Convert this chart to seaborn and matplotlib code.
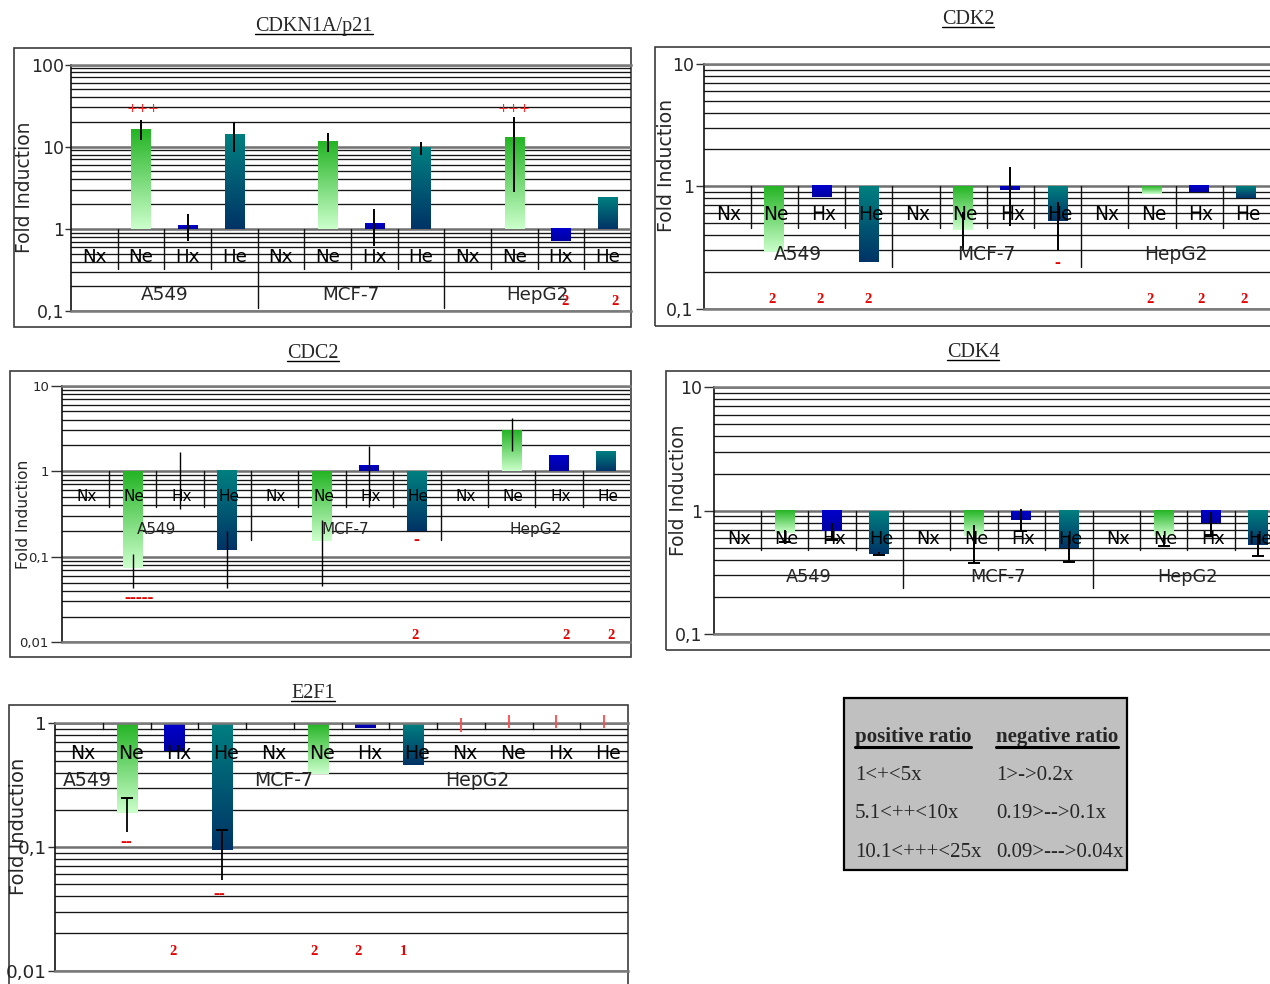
import numpy as np
import pandas as pd
import seaborn as sns
import matplotlib
matplotlib.use("Agg")
import matplotlib.pyplot as plt
from matplotlib.colors import LinearSegmentedColormap
from matplotlib.patches import Rectangle
from matplotlib.lines import Line2D
from matplotlib.ticker import FixedLocator, FixedFormatter, LogLocator, NullFormatter

nan = np.nan

# ---------------- data ----------------
cell_lines = ["A549", "MCF-7", "HepG2"]
conditions = ["Nx", "Ne", "Hx", "He"]

p21_title = "CDKN1A/p21"
p21_values = [1.0, 16.4, 1.11, 14.3, 1.0, 11.7, 1.17, 9.7, 1.0, 12.9, 0.71, 2.44]
p21_err_low = [nan, 11.9, 0.72, 8.5, nan, 8.5, 0.61, 7.9, nan, 2.77, nan, nan]
p21_err_high = [nan, 21.3, 1.51, 19.8, nan, 14.7, 1.74, 11.3, nan, 22.8, nan, nan]
p21_yticks = [0.1, 1, 10, 100]
p21_yticklabels = ["0,1", "1", "10", "100"]
p21_marks = [("+++", 1.05, 29.0), ("+++", 8.99, 29.5), ("2", 10.08, 0.129), ("2", 11.16, 0.129)]

cdk2_title = "CDK2"
cdk2_values = [1.0, 0.29, 0.81, 0.24, 1.0, 0.44, 0.93, 0.52, 1.0, 0.87, 0.89, 0.80]
cdk2_err_low = [nan, nan, nan, nan, nan, 0.30, 0.47, 0.30, nan, nan, nan, nan]
cdk2_err_high = [nan, nan, nan, nan, nan, 0.61, 1.44, 0.75, nan, nan, nan, nan]
cdk2_yticks = [0.1, 1, 10]
cdk2_yticklabels = ["0,1", "1", "10"]
cdk2_marks = [("2", 0.96, 0.118), ("2", 1.96, 0.118), ("2", 2.99, 0.118),
              ("-", 6.99, 0.235),
              ("2", 8.96, 0.118), ("2", 10.03, 0.118), ("2", 10.95, 0.118)]

cdc2_title = "CDC2"
cdc2_values = [1.0, 0.074, 1.0, 0.119, 1.0, 0.153, 1.17, 0.20, 1.0, 3.0, 1.5, 1.71]
cdc2_err_low = [nan, 0.043, 0.36, 0.043, nan, 0.045, 0.38, nan, nan, 1.73, nan, nan]
cdc2_err_high = [nan, 0.109, 1.66, 0.20, nan, 0.267, 1.96, nan, nan, 4.2, nan, nan]
cdc2_yticks = [0.01, 0.1, 1, 10]
cdc2_yticklabels = ["0,01", "0,1", "1", "10"]
cdc2_marks = [("-----", 1.13, 0.0324), ("-", 6.98, 0.156),
              ("2", 6.96, 0.0121), ("2", 10.15, 0.0121), ("2", 11.09, 0.0121)]

cdk4_title = "CDK4"
cdk4_values = [1.0, 0.66, 0.68, 0.45, 1.0, 0.62, 0.85, 0.50, 1.0, 0.62, 0.79, 0.53]
cdk4_err_low = [nan, 0.56, 0.58, 0.44, nan, 0.38, 0.68, 0.386, nan, 0.52, 0.64, 0.43]
cdk4_err_high = [nan, 0.70, 0.80, 0.46, nan, 0.766, 1.03, 0.635, nan, 0.64, 0.98, 0.65]
cdk4_yticks = [0.1, 1, 10]
cdk4_yticklabels = ["0,1", "1", "10"]
cdk4_marks = []

e2f1_title = "E2F1"
e2f1_values = [1.0, 0.19, 0.60, 0.094, 1.0, 0.39, 0.92, 0.46, 1.0, 1.0, 1.0, 1.0]
e2f1_err_low = [nan, 0.131, nan, 0.054, nan, nan, nan, nan, 0.85, 0.92, 0.92, 0.92]
e2f1_err_high = [nan, 0.25, nan, 0.136, nan, nan, nan, nan, 1.10, 1.17, 1.17, 1.17]
e2f1_yticks = [0.01, 0.1, 1]
e2f1_yticklabels = ["0,01", "0,1", "1"]
e2f1_marks = [("--", 1.0, 0.108), ("--", 2.95, 0.0412),
              ("2", 1.98, 0.0144), ("2", 4.92, 0.0144), ("2", 5.85, 0.0144), ("1", 6.8, 0.0144)]

legend_headers = ["positive ratio", "negative ratio"]
legend_positive = ["1<+<5x", "5.1<++<10x", "10.1<+++<25x"]
legend_negative = ["1>->0.2x", "0.19>-->0.1x", "0.09>--->0.04x"]

# ---------------- style ----------------
W, H = 1270, 984
SANS = ["DejaVu Sans"]
SERIF = ["Liberation Serif", "DejaVu Serif"]
RED = "#e60000"

sns.set_style("white")
plt.rcParams["font.family"] = SANS

bar_base = {"Nx": "#ffffff", "Ne": "#7fd97f", "Hx": "#0000c0", "He": "#005577"}
bar_grad = {"Ne": ("#24b424", "#ccffcc"), "Hx": ("#0000cc", "#0000a2"), "He": ("#008080", "#003366")}

panels = [
    dict(title=p21_title, values=p21_values, lo=p21_err_low, hi=p21_err_high,
         yticks=p21_yticks, yticklabels=p21_yticklabels, marks=p21_marks,
         ax_px=(71, 64.5, 631, 311), frame_px=(14, 48, 631, 327), title_px=(314, 31),
         ylabel_px=(24.5, 187.5), cat_off=28, grp_off=66, sep_cat=40, sep_grp=79,
         fs_tick=12.5, fs_lab=13.4, fs_cat=13.2, ticklen=4, grp_align="center",
         cat_dx=0.0, cap=None, red_err=None, elw=1.4),
    dict(title=cdk2_title, values=cdk2_values, lo=cdk2_err_low, hi=cdk2_err_high,
         yticks=cdk2_yticks, yticklabels=cdk2_yticklabels, marks=cdk2_marks,
         ax_px=(703.5, 64, 1270, 308.5), frame_px=(655, 47, 1290, 326), title_px=(968, 24),
         ylabel_px=(666, 165.5), cat_off=28.3, grp_off=68.3, sep_cat=41.6, sep_grp=81,
         fs_tick=12.5, fs_lab=13.6, fs_cat=13.4, ticklen=6, grp_align="center",
         cat_dx=0.04, cap=None, red_err=None, elw=1.4),
    dict(title=cdc2_title, values=cdc2_values, lo=cdc2_err_low, hi=cdc2_err_high,
         yticks=cdc2_yticks, yticklabels=cdc2_yticklabels, marks=cdc2_marks,
         ax_px=(61.5, 385.7, 630, 642.3), frame_px=(10, 371, 630.6, 656.5), title_px=(313, 358.3),
         ylabel_px=(23.5, 514), cat_off=25, grp_off=58.3, sep_cat=35.7, sep_grp=69,
         fs_tick=9.5, fs_lab=11.2, fs_cat=11.0, ticklen=8, grp_align="center",
         cat_dx=0.03, cap=None, red_err=None, elw=1.0),
    dict(title=cdk4_title, values=cdk4_values, lo=cdk4_err_low, hi=cdk4_err_high,
         yticks=cdk4_yticks, yticklabels=cdk4_yticklabels, marks=cdk4_marks,
         ax_px=(713.5, 387.3, 1282, 634.3), frame_px=(666, 371, 1290, 650), title_px=(973, 357.3),
         ylabel_px=(678, 490), cat_off=28.6, grp_off=66, sep_cat=39.3, sep_grp=77.6,
         fs_tick=12.5, fs_lab=13.4, fs_cat=12.8, ticklen=7, grp_align="center",
         cat_dx=0.04, cap="low", red_err=None, elw=1.4),
    dict(title=e2f1_title, values=e2f1_values, lo=e2f1_err_low, hi=e2f1_err_high,
         yticks=e2f1_yticks, yticklabels=e2f1_yticklabels, marks=e2f1_marks,
         ax_px=(55, 723.3, 628, 970.7), frame_px=(9, 705, 628, 1000), title_px=(313, 698.3),
         ylabel_px=(18.4, 826), cat_off=30, grp_off=56.7, sep_cat=6, sep_grp=6,
         fs_tick=13.3, fs_lab=14, fs_cat=13.6, ticklen=5, grp_align="left",
         cat_dx=0.09, cap="high", red_err="HepG2", elw=1.3),
]

fig = plt.figure(figsize=(W / 100, H / 100), dpi=100)
fig.patch.set_facecolor("white")


def fx(x):
    return x / W


def fy(y):
    return 1 - y / H


title_artists = []

for cfg in panels:
    l, t, r, b = cfg["ax_px"]
    ax = fig.add_axes([fx(l), fy(b), (r - l) / W, (b - t) / H])
    ax.set_facecolor("none")
    vals = np.asarray(cfg["values"], float)
    n = len(vals)
    slots = [f"{c} {k}" for c in cell_lines for k in conditions]
    conds = conditions * len(cell_lines)
    df = pd.DataFrame({"slot": slots, "condition": conds, "value": vals})
    sns.barplot(data=df, x="slot", y="value", hue="condition", order=slots,
                hue_order=conditions, palette=bar_base, dodge=False, width=0.42,
                errorbar=None, legend=False, saturation=1, linewidth=0, ax=ax)
    ax.set_yscale("log")
    ylo, yhi = cfg["yticks"][0], cfg["yticks"][-1]
    ax.set_ylim(ylo, yhi)
    ax.set_xlim(-0.5, n - 0.5)
    ax.set_xticks([])
    ax.set_xlabel("")
    ax.set_ylabel("")

    decade_px = (b - t) / (np.log10(yhi) - np.log10(ylo))

    def y_at(off_px, base=1.0):
        return base * 10 ** (-off_px / decade_px)

    # bars start at 1 (the category axis crosses at 1)
    bars = [p for p in ax.patches if isinstance(p, Rectangle)]
    to_axes = ax.transData + ax.transAxes.inverted()
    for p in bars:
        h = p.get_height()
        p.set_y(1.0)
        p.set_height(h - 1.0)
        p.set_zorder(2)
        idx = int(round(p.get_x() + p.get_width() / 2))
        cond = conds[idx]
        top, bot = max(1.0, h), min(1.0, h)
        if top / bot < 1.002 or cond not in bar_grad:
            p.set_visible(False)
            continue
        (ax0, ay0) = to_axes.transform((p.get_x(), bot))
        (ax1, ay1) = to_axes.transform((p.get_x() + p.get_width(), top))
        cmap = LinearSegmentedColormap.from_list("g", list(bar_grad[cond]))
        grad = np.linspace(0, 1, 256)[:, None]
        ax.imshow(grad, cmap=cmap, extent=[ax0, ax1, ay0, ay1], transform=ax.transAxes,
                  aspect="auto", origin="upper", interpolation="bilinear", zorder=2.1)
    ax.set_ylim(ylo, yhi)
    ax.set_xlim(-0.5, n - 0.5)

    # grid & ticks
    ax.yaxis.set_major_locator(FixedLocator(cfg["yticks"]))
    ax.yaxis.set_major_formatter(FixedFormatter(cfg["yticklabels"]))
    ax.yaxis.set_minor_locator(LogLocator(base=10, subs=np.arange(2, 10), numticks=100))
    ax.yaxis.set_minor_formatter(NullFormatter())
    ax.set_axisbelow(True)
    ax.grid(axis="y", which="minor", color="#151515", lw=0.95)
    ax.grid(axis="y", which="major", color="#707070", lw=1.8)
    ax.grid(axis="x", visible=False)
    ax.tick_params(axis="y", which="minor", left=False, length=0)
    ax.tick_params(axis="y", which="major", left=True, length=cfg["ticklen"], width=1.0,
                   color="#333333", direction="out", pad=1, labelsize=cfg["fs_tick"])
    ax.spines["right"].set_visible(False)
    ax.spines["left"].set_color("#111111")
    ax.spines["left"].set_linewidth(1.2)
    for s in ["top", "bottom"]:
        ax.spines[s].set_color("#7a7a7a")
        ax.spines[s].set_linewidth(1.8)

    # category axis crossing at 1
    xs = np.arange(n)
    bounds = np.arange(1, n) - 0.5
    for bx in bounds:
        grp = (int(bx + 0.5) % 4 == 0)
        L = cfg["sep_grp"] if grp else cfg["sep_cat"]
        ax.plot([bx, bx], [1.0, y_at(L)], color="#111111", lw=1.0, zorder=3, clip_on=False)
    for i in xs:
        ax.text(i + cfg["cat_dx"], y_at(cfg["cat_off"]), conds[i], ha="center", va="center",
                fontsize=cfg["fs_cat"], zorder=6, color="black")
    for g, cl in enumerate(cell_lines):
        if cfg["grp_align"] == "center":
            ax.text(4 * g + 1.5, y_at(cfg["grp_off"]), cl, ha="center", va="center",
                    fontsize=cfg["fs_cat"], zorder=6)
        else:
            ax.text(4 * g - 0.5 + 0.16, y_at(cfg["grp_off"]), cl, ha="left", va="center",
                    fontsize=cfg["fs_cat"], zorder=6)

    # error bars
    lo = np.asarray(cfg["lo"], float)
    hi = np.asarray(cfg["hi"], float)
    has = ~np.isnan(lo)
    groups = np.array([cell_lines[i // 4] for i in range(n)])
    red_mask = (groups == cfg["red_err"]) if cfg["red_err"] else np.zeros(n, bool)
    for mask, col in [(has & ~red_mask, "black"), (has & red_mask, "#ff4a4a")]:
        if mask.any():
            ax.vlines(xs[mask], lo[mask], hi[mask], colors=col, lw=cfg["elw"], zorder=4,
                      clip_on=False)
    capm = has & ~red_mask
    if cfg["cap"] == "low" and capm.any():
        ax.plot(xs[capm], lo[capm], ls="none", marker="_", ms=9, mew=1.4, color="black", zorder=4)
    if cfg["cap"] == "high" and capm.any():
        ax.plot(xs[capm], hi[capm], ls="none", marker="_", ms=8, mew=1.4, color="black", zorder=4)

    # significance marks
    for txt, mx, my in cfg["marks"]:
        if txt.startswith("+"):
            ax.text(mx, my, txt, ha="center", va="center", color="#ff2a2a", fontsize=9.5,
                    family=SANS, zorder=7)
        elif txt.startswith("-"):
            ax.text(mx, my, txt, ha="center", va="center", color=RED, fontsize=13,
                    family=SERIF, weight="bold", zorder=7)
        else:
            ax.text(mx, my, txt, ha="center", va="center", color=RED, fontsize=10.5,
                    family=SERIF, weight="bold", zorder=7)

    # frame, title, y label
    x0, y0, x1, y1 = cfg["frame_px"]
    fig.add_artist(Rectangle((fx(x0), fy(y1)), (x1 - x0) / W, (y1 - y0) / H,
                             transform=fig.transFigure, fill=False, ec="#3c3c3c", lw=1.2,
                             zorder=-1))
    tx, ty = cfg["title_px"]
    tt = fig.text(fx(tx), fy(ty), cfg["title"], ha="center", va="baseline",
                  fontsize=14.5, family=SERIF)
    title_artists.append((tt, ty))
    lx, ly = cfg["ylabel_px"]
    fig.text(fx(lx), fy(ly), "Fold Induction", rotation=90, ha="center", va="center",
             fontsize=cfg["fs_lab"])

# legend box
fig.add_artist(Rectangle((fx(844), fy(870)), (1127 - 844) / W, (870 - 698) / H,
                         transform=fig.transFigure, facecolor="#c0c0c0", edgecolor="black",
                         lw=1.6, zorder=1))
head_artists = []
for col_x, head in zip([855, 996], legend_headers):
    ht = fig.text(fx(col_x), fy(742), head, ha="left", va="baseline", fontsize=15,
                  family=SERIF, weight="bold", zorder=2)
    head_artists.append((ht, 742))
for row, (ptxt, ntxt) in enumerate(zip(legend_positive, legend_negative)):
    yb = 780 + row * 38.3
    fig.text(fx(855), fy(yb), ptxt, ha="left", va="baseline", fontsize=15, family=SERIF, zorder=2)
    fig.text(fx(996), fy(yb), ntxt, ha="left", va="baseline", fontsize=15, family=SERIF, zorder=2)

# underlines
fig.canvas.draw()
renderer = fig.canvas.get_renderer()
for art, base, off, lw in [(a, b_, 2.5, 1.0) for a, b_ in title_artists] + \
                          [(a, b_, 4.5, 2.2) for a, b_ in head_artists]:
    bb = art.get_window_extent(renderer)
    fig.add_artist(Line2D([bb.x0 / W, bb.x1 / W], [fy(base + off), fy(base + off)],
                          transform=fig.transFigure, color="black", lw=lw, zorder=3))

fig.savefig("out.png", dpi=100, facecolor="white")
